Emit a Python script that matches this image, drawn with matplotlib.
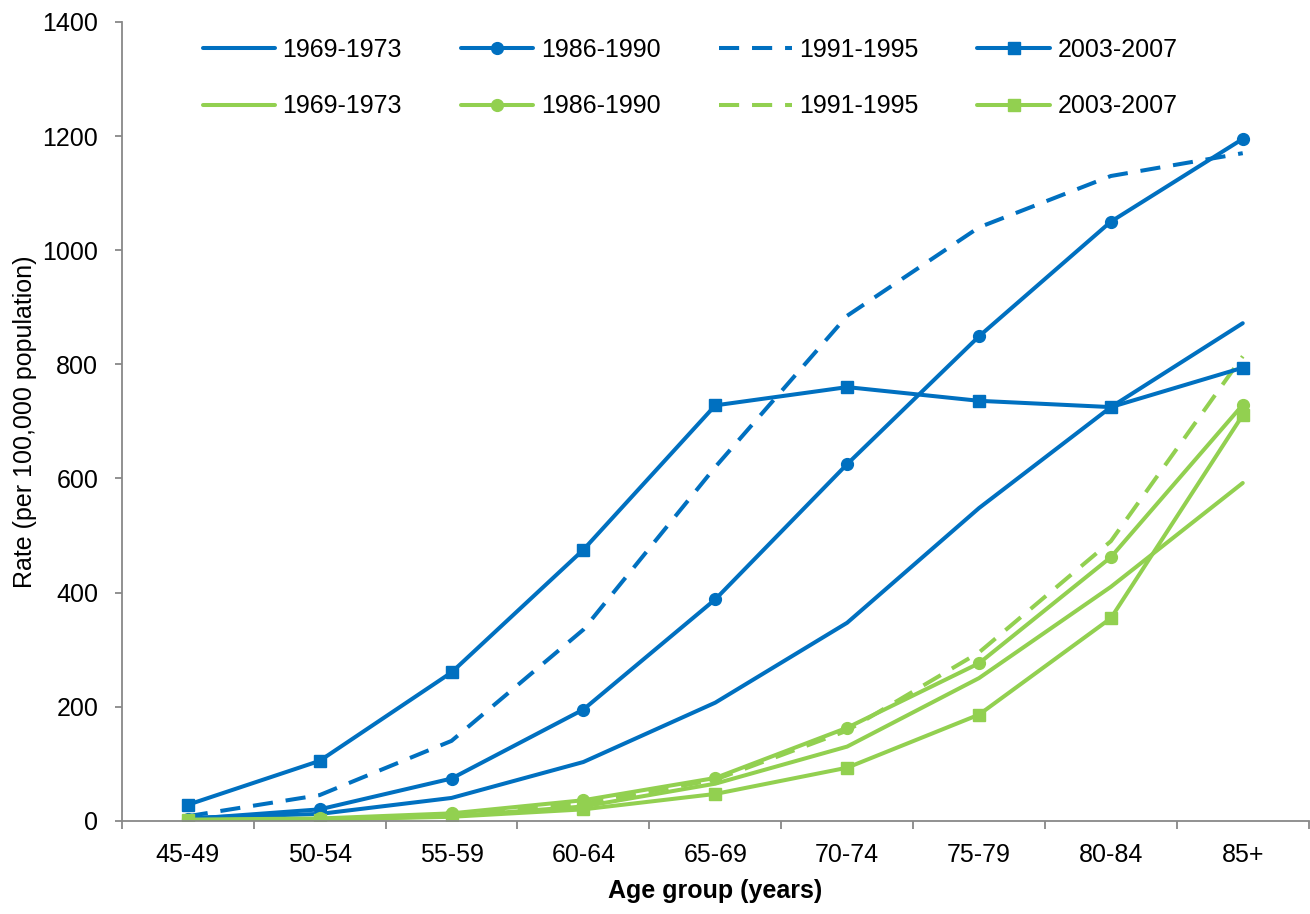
import matplotlib
matplotlib.use('Agg')
import matplotlib.pyplot as plt
import numpy as np

plt.rcParams['font.family'] = ['Liberation Sans', 'DejaVu Sans']

age_groups = ['45-49', '50-54', '55-59', '60-64', '65-69', '70-74', '75-79', '80-84', '85+']
periods = ['1969-1973', '1986-1990', '1991-1995', '2003-2007']

# blue group
blue_1969 = [5, 12, 40, 103, 207, 347, 548, 725, 872]
blue_1986 = [3, 20, 74, 195, 388, 625, 849, 1050, 1195]
blue_1991 = [8, 45, 140, 335, 620, 885, 1040, 1130, 1170]
blue_2003 = [28, 105, 260, 475, 728, 760, 736, 725, 794]

# green group
green_1969 = [1, 3, 8, 25, 65, 130, 250, 410, 592]
green_1986 = [2, 4, 13, 36, 75, 163, 276, 462, 729]
green_1991 = [1, 3, 10, 30, 72, 158, 295, 490, 814]
green_2003 = [1, 2, 7, 20, 47, 93, 186, 355, 711]

BLUE = '#0070C0'
GREEN = '#92D050'
FS = 18

styles = [
    dict(linestyle='-', marker=None),
    dict(linestyle='-', marker='o'),
    dict(linestyle=(0, (5, 3.2)), marker=None),
    dict(linestyle='-', marker='s'),
]

fig = plt.figure(figsize=(13.1, 9.14), dpi=100)
ax = fig.add_axes([0.093, 0.102, 0.906, 0.874])

x = np.arange(len(age_groups))
handles = []
for blue, green, st, lab in zip([blue_1969, blue_1986, blue_1991, blue_2003],
                                [green_1969, green_1986, green_1991, green_2003],
                                styles, periods):
    hb, = ax.plot(x, blue, color=BLUE, linewidth=2.9, markersize=8.5,
                  solid_capstyle='round', label=lab, **st)
    hg, = ax.plot(x, green, color=GREEN, linewidth=2.9, markersize=8.5,
                  solid_capstyle='round', label=lab, **st)
    handles += [hb, hg]

ax.set_xlim(-0.5, len(age_groups) - 0.5)
ax.set_ylim(0, 1400)
ax.set_yticks(np.arange(0, 1401, 200))
ax.set_xticks(x)
ax.set_xticklabels(age_groups)
ax.set_xticks(np.arange(-0.5, len(age_groups), 1), minor=True)
ax.tick_params(axis='x', which='major', length=0, labelsize=FS, pad=16)
ax.tick_params(axis='x', which='minor', length=6, width=1.3, color='#888888', direction='out')
ax.tick_params(axis='y', length=5, width=1.3, color='#888888', labelsize=FS, pad=12,
               direction='out')

for s in ['top', 'right']:
    ax.spines[s].set_visible(False)
for s in ['left', 'bottom']:
    ax.spines[s].set_color('#888888')
    ax.spines[s].set_linewidth(1.3)

ax.set_xlabel('Age group (years)', fontsize=FS, fontweight='bold', labelpad=9)
ax.set_ylabel('Rate (per 100,000 population)', fontsize=FS, labelpad=4)

ax.legend(handles=handles, ncol=4, loc='upper left', bbox_to_anchor=(0.068, 0.98),
          frameon=False, fontsize=FS, handlelength=2.9, handletextpad=0.3,
          columnspacing=2.35, labelspacing=1.3, borderpad=0, borderaxespad=0)

fig.savefig('out.png', dpi=100)
